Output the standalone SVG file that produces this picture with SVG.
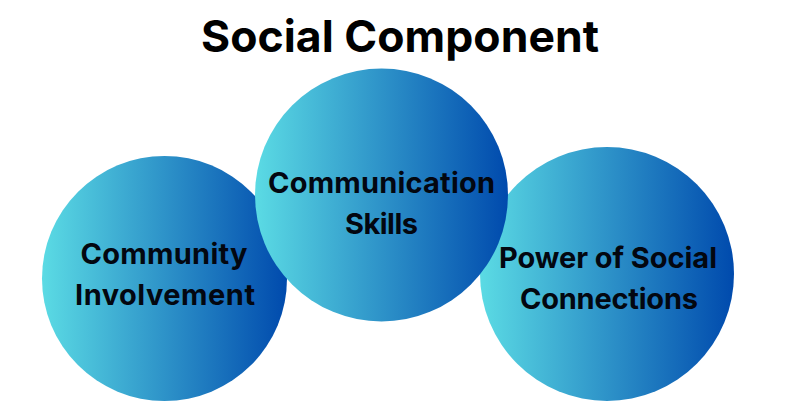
<svg xmlns="http://www.w3.org/2000/svg" width="800" height="419" viewBox="0 0 800 419">
<style>
.t{font-family:"Inter","Open Sans","Liberation Sans",sans-serif;font-weight:700;fill:#030710;text-anchor:middle;font-size:29px}
.h{font-family:"Inter","Open Sans","Liberation Sans",sans-serif;font-weight:700;fill:#000;text-anchor:middle;font-size:44.500px}
</style>
<defs>
<linearGradient id="g" x1="0" y1="0" x2="1" y2="0">
<stop offset="0" stop-color="#5bdbe4"/>
<stop offset="1" stop-color="#004aad"/>
</linearGradient>
</defs>
<rect width="800" height="419" fill="#fff"/>
<text class="h" x="400" y="52" textLength="398">Social Component</text>
<g id="community">
<circle cx="164.500" cy="278.500" r="122.500" fill="url(#g)"/>
<text class="t" x="164" y="264" textLength="167">Community</text>
<text class="t" x="165" y="304.500" textLength="180">Involvement</text>
</g>
<g id="power">
<circle cx="607" cy="274" r="127" fill="url(#g)"/>
<text class="t" x="608" y="268" textLength="218">Power of Social</text>
<text class="t" x="609" y="308.500" textLength="178">Connections</text>
</g>
<g id="communication">
<circle cx="381.500" cy="195" r="126.500" fill="url(#g)"/>
<text class="t" x="381.500" y="193" textLength="227">Communication</text>
<text class="t" x="381.500" y="234" textLength="73">Skills</text>
</g>
<g id="connectors"/>
</svg>
